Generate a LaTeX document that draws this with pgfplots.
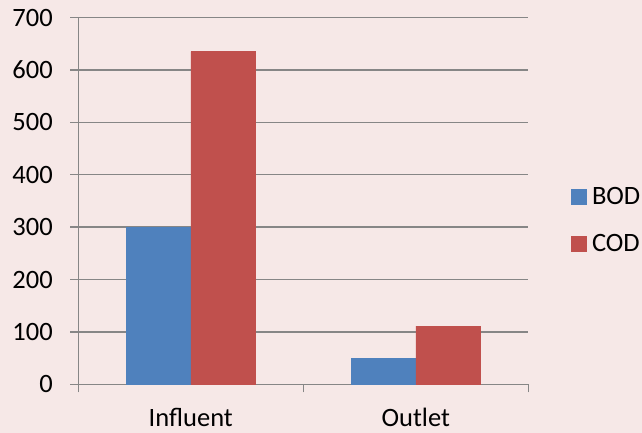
\documentclass[border=0pt]{standalone}
\usepackage{pgfplots}
\pgfplotsset{compat=1.18}
\usepackage{fontspec}
\setmainfont{Carlito}
\definecolor{bgpink}{RGB}{246,232,231}
\definecolor{gridgray}{RGB}{134,134,134}
\definecolor{bodblue}{RGB}{79,129,189}
\definecolor{codred}{RGB}{192,80,77}
\begin{document}
\begin{tikzpicture}
\fill[bgpink] (0,0) rectangle (642pt,433pt);
\begin{axis}[
  at={(78.3pt,48.7pt)}, anchor=south west,
  scale only axis, width=450pt, height=366.8pt,
  ybar=0pt, bar width=64.3pt,
  xmin=-0.5, xmax=1.5, ymin=0, ymax=700,
  enlarge x limits=false,
  axis lines=left, axis line style={-, gridgray, line width=1.3pt},
  xtick={-0.5,0.5,1.5}, x tick label as interval,
  xticklabels={Influent,Outlet},
  ytick={0,100,...,700},
  ymajorgrids, grid style={gridgray, line width=1.3pt},
  tick align=outside, major tick length=8pt,
  tick style={gridgray, line width=1.3pt},
  tick label style={font=\fontsize{26.5}{31}\selectfont, text=black},
  /pgf/number format/assume math mode=true,
  xticklabel style={anchor=base, yshift=-34pt},
  yticklabel style={anchor=base east, yshift=-8.5pt, xshift=-14pt},
  legend style={at={(1.094,0.448)}, anchor=west, draw=none, fill=none,
    font=\fontsize{26.5}{31}\selectfont, inner sep=0pt, row sep=24pt},
  legend cell align=left,
  legend image code/.code={\path[draw=none, fill=none] (0pt,0pt) rectangle (19pt,0.1pt);
    \fill[#1] (0pt,-7.5pt) rectangle (15pt,7.5pt);},
]
\addplot[fill=bodblue, draw=bodblue] coordinates {(0,300) (1,49)};
\addlegendentry{BOD}
\addplot[fill=codred, draw=codred] coordinates {(0,635) (1,111)};
\addlegendentry{COD}
\end{axis}
\pgfresetboundingbox
\path (0,0) rectangle (642pt,433pt);
\end{tikzpicture}
\end{document}
